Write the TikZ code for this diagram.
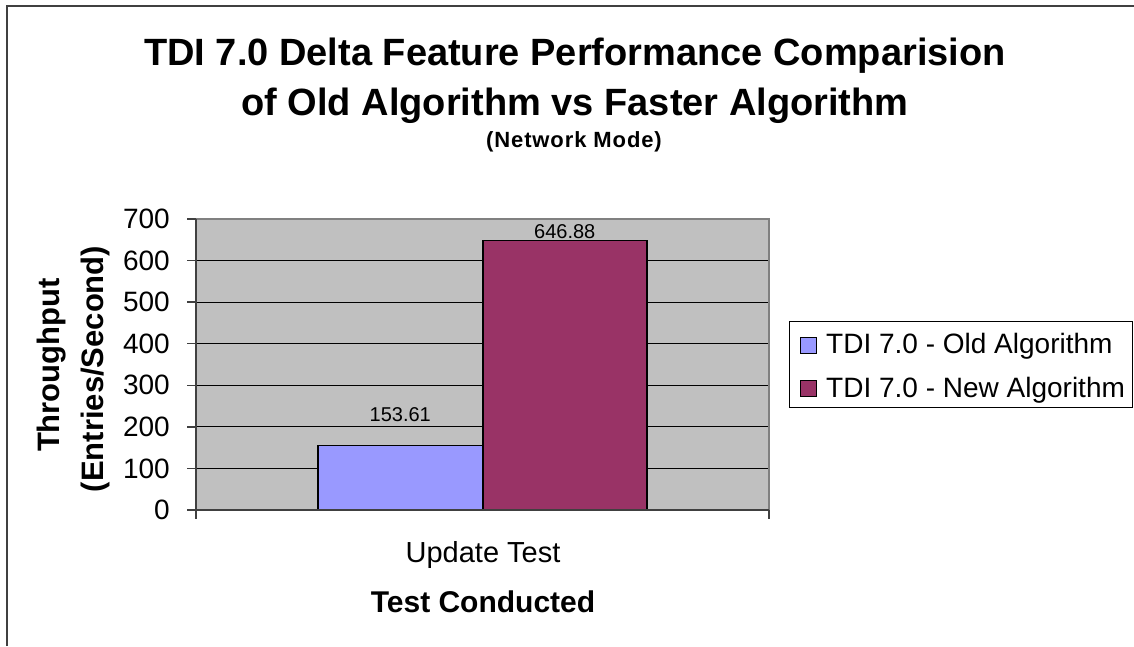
\documentclass[tikz,border=0pt]{standalone}
\usepackage{fontspec}
\setmainfont{Liberation Sans}
\definecolor{plotgray}{HTML}{C0C0C0}
\definecolor{oldbar}{HTML}{9999FF}
\definecolor{newbar}{HTML}{993366}
\definecolor{frame}{HTML}{404040}
\definecolor{border}{HTML}{808080}
\tikzset{
  lbl/.style={inner sep=0pt, font=\fontsize{28}{32}\selectfont},
  blbl/.style={inner sep=0pt, font=\fontsize{31}{36}\selectfont\bfseries},
  vlbl/.style={inner sep=0pt, font=\fontsize{20}{24}\selectfont},
  bar/.style={draw=black, line width=1.5pt},
  grid/.style={draw=black, line width=1pt},
  swatch/.style={draw=black, line width=1pt, minimum size=16pt, inner sep=0pt}
}
\begin{document}
\begin{tikzpicture}[x=1pt,y=-1pt]
\useasboundingbox (0,0) rectangle (1134,646);
% outer frame (cut at right and bottom)
\draw[frame, line width=2pt] (6.5,646) -- (6.5,5.5) -- (1134,5.5);
% titles
\node[anchor=base, inner sep=0pt, font=\fontsize{38}{44}\selectfont\bfseries] (t1) at (575,65) {TDI 7.0 Delta Feature Performance Comparision};
\node[anchor=base, inner sep=0pt, font=\fontsize{38}{44}\selectfont\bfseries] (t2) at (575,115) {of Old Algorithm vs Faster Algorithm};
\node[anchor=base, inner sep=0pt, font=\fontsize{22}{26}\selectfont\bfseries\addfontfeatures{LetterSpace=4}] (t3) at (574,147) {(Network Mode)};
% plot area
\fill[plotgray] (196,219) rectangle (769,510);
\foreach \v in {1,...,6} {
  \draw[grid] (196,{510-\v*41.57}) -- (769,{510-\v*41.57});
}
\draw[border, line width=1.5pt] (196,219) -- (769,219) -- (769,510);
% bars
\node[bar, fill=oldbar, minimum width=165pt, minimum height=64pt, inner sep=0pt, anchor=south west] (ob) at (317,510) {};
\node[bar, fill=newbar, minimum width=164pt, minimum height=269pt, inner sep=0pt, anchor=south west] (nb) at (482,510) {};
% axes
\draw[frame, line width=1.5pt] (196,219) -- (196,519);
\draw[frame, line width=1.5pt] (187,510) -- (769,510);
\draw[frame, line width=1.5pt] (769,510) -- (769,519);
\foreach \v in {0,...,7} {
  \draw[frame, line width=1.5pt] (187,{510-\v*41.57}) -- (196,{510-\v*41.57});
  \node[lbl, anchor=east] (y\v) at (170,{510-\v*41.57}) {\the\numexpr\v*100\relax};
}
% value labels
\node[vlbl, anchor=base] (v1) at (ob.north |- 0,421.5) {153.61};
\node[vlbl, anchor=base] (v2) at (nb.north |- 0,238) {646.88};
% axis titles
\node[blbl, rotate=90] (ya1) at (52,365) {Throughput};
\node[blbl, rotate=90] (ya2) at (95,369) {(Entries/Second)};
\node[lbl, font=\fontsize{29}{33}\selectfont, anchor=base] (cat) at (483,562) {Update Test};
\node[blbl, font=\fontsize{30}{34}\selectfont\bfseries, anchor=base] (xa) at (483,612) {Test Conducted};
% legend
\node[draw=black, line width=1pt, fill=white, minimum width=343pt, minimum height=86pt, inner sep=0pt, anchor=north west] (leg) at (789,321) {};
\node[swatch, fill=oldbar] (s1) at (808,345) {};
\node[swatch, fill=newbar] (s2) at (808,388) {};
\node[lbl, anchor=base west] (l1) at (826,353) {TDI 7.0 - Old Algorithm};
\node[lbl, anchor=base west] (l2) at (826,397) {TDI 7.0 - New Algorithm};
\end{tikzpicture}
\end{document}
